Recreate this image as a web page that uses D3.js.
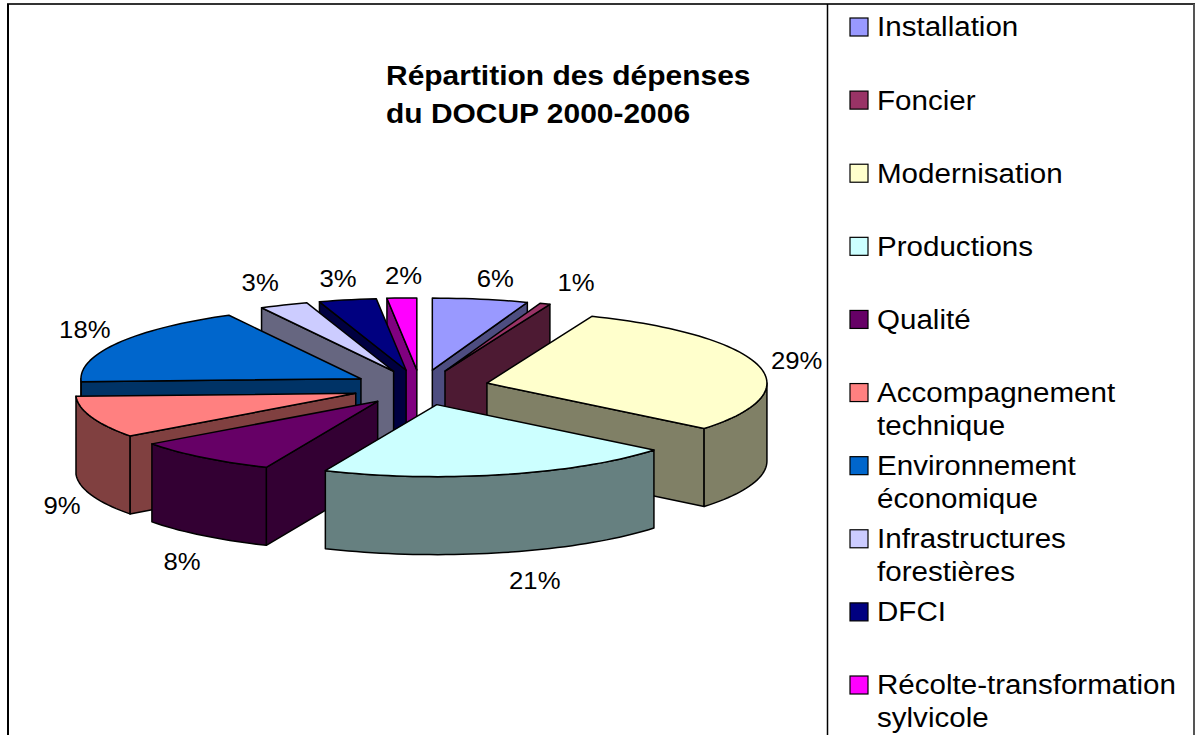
<!DOCTYPE html>
<html>
<head>
<meta charset="utf-8">
<script src="https://cdn.jsdelivr.net/npm/d3@7"></script>
<style>
    html, body { margin: 0; padding: 0; background: #fff; overflow: hidden; }
    text { font-family: "Liberation Sans", Arial, sans-serif; fill: #000; }
</style>
</head>
<body>
<div id="chart"></div>
<script>
// slices, clockwise from 12 o'clock
var categories = ["Installation", "Foncier", "Modernisation", "Productions", "Qualité",
    "Accompagnement technique", "Environnement économique", "Infrastructures forestières",
    "DFCI", "Récolte-transformation sylvicole"];
var shares = [5.5, 0.6, 29.7, 20.6, 8.4, 9.4, 17.8, 2.8, 3.3, 1.7];
var shareLabels = ["6%", "1%", "29%", "21%", "8%", "9%", "18%", "3%", "3%", "2%"];
var colors = ["#9999FF", "#993366", "#FFFFCC", "#CCFFFF", "#660066",
    "#FF8080", "#0066CC", "#CCCCFF", "#000080", "#FF00FF"];
var legendLines = [["Installation"], ["Foncier"], ["Modernisation"], ["Productions"], ["Qualité"],
    ["Accompagnement", "technique"], ["Environnement", "économique"], ["Infrastructures", "forestières"],
    ["DFCI"], ["Récolte-transformation", "sylvicole"]];
var titleLines = ["Répartition des dépenses", "du DOCUP 2000-2006"];

// small corrections of the percent labels, excel places them by hand
var labelNudge = [[7, 2], [15, 0], [-5, 1], [21, 6], [7, 8], [13, 3], [6, -2], [-6, -1], [0, 1], [4, 1]];

var width = 1198, height = 735;
var textStretch = 1.07;   // the original text is a bit wider than it is tall
var legendStretch = 1.095;

var svg = d3.select("#chart").append("svg")
    .attr("width", width)
    .attr("height", height);

// table lines around the chart
var frame = svg.append("g").attr("stroke", "#000").attr("stroke-width", 2);
frame.append("line").attr("x1", 7).attr("x2", 1195).attr("y1", 4).attr("y2", 4).attr("stroke", "#333");
frame.append("line").attr("x1", 8).attr("x2", 8).attr("y1", 4).attr("y2", height);
frame.append("line").attr("x1", 827.5).attr("x2", 827.5).attr("y1", 4).attr("y2", height).attr("stroke-width", 1.5);
frame.append("line").attr("x1", 1194).attr("x2", 1194).attr("y1", 4).attr("y2", height).attr("stroke", "#555");

// pie geometry
var centerX = 420.5, centerY = 387.5;
var radiusX = 280, radiusY = 72, depth = 78;
var explode = 0.245;

var pie = d3.pie().sort(null).value(function(d) { return d.share; });
var rows = categories.map(function(c, i) {
    return { name: c, share: shares[i], label: shareLabels[i], color: colors[i], nudge: labelNudge[i] };
});
var slices = pie(rows);

slices.forEach(function(s) {
    s.mid = (s.startAngle + s.endAngle) / 2;
    s.apexX = centerX + explode * radiusX * Math.sin(s.mid);
    s.apexY = centerY - explode * radiusY * Math.cos(s.mid);
    s.shade = d3.interpolateRgb(s.data.color, "#000")(0.5);
});

function rimX(s, a) { return s.apexX + radiusX * Math.sin(a); }
function rimY(s, a) { return s.apexY - radiusY * Math.cos(a); }

var line = d3.line();

function arcPoints(s, a0, a1, drop) {
    var n = Math.max(2, Math.ceil((a1 - a0) / 0.03));
    return d3.range(n + 1).map(function(k) {
        var a = a0 + (a1 - a0) * k / n;
        return [rimX(s, a), rimY(s, a) + drop];
    });
}

function sideFace(s, a) {
    return line([[s.apexX, s.apexY], [rimX(s, a), rimY(s, a)],
        [rimX(s, a), rimY(s, a) + depth], [s.apexX, s.apexY + depth]]) + "Z";
}

// back slices first so the front ones cover them
var ordered = slices.slice().sort(function(a, b) { return a.apexY - b.apexY; });

var pieGroup = svg.append("g")
    .attr("stroke", "#000")
    .attr("stroke-width", 1.5)
    .attr("stroke-linejoin", "round");

ordered.forEach(function(s) {
    var g = pieGroup.append("g");

    // cut faces, only those turned towards the viewer
    if (Math.sin(s.startAngle) < -0.001) {
        g.append("path").attr("d", sideFace(s, s.startAngle)).attr("fill", s.shade);
    }
    if (Math.sin(s.endAngle) > 0.001) {
        g.append("path").attr("d", sideFace(s, s.endAngle)).attr("fill", s.shade);
    }

    // outer wall
    var a0 = Math.max(s.startAngle, Math.PI / 2);
    var a1 = Math.min(s.endAngle, 3 * Math.PI / 2);
    if (a1 > a0) {
        var wall = arcPoints(s, a0, a1, 0).concat(arcPoints(s, a0, a1, depth).reverse());
        g.append("path").attr("d", line(wall) + "Z").attr("fill", s.shade);
    }

    // top
    var top = [[s.apexX, s.apexY]].concat(arcPoints(s, s.startAngle, s.endAngle, 0));
    g.append("path").attr("d", line(top) + "Z").attr("fill", s.data.color);
});

// percent labels
var labelRx = 325, labelRy = 95;
svg.append("g").selectAll("text")
    .data(slices).enter().append("text")
    .attr("transform", function(s) {
        var front = Math.cos(s.mid) < 0 ? depth : 0;
        var x = s.apexX + labelRx * Math.sin(s.mid) + s.data.nudge[0];
        var y = s.apexY - labelRy * Math.cos(s.mid) + front + s.data.nudge[1];
        return "translate(" + [x, y] + ") scale(" + textStretch + ",1)";
    })
    .attr("dy", "0.35em")
    .attr("text-anchor", "middle")
    .attr("font-size", 24)
    .text(function(s) { return s.data.label; });

// title
svg.append("g").selectAll("text")
    .data(titleLines).enter().append("text")
    .attr("transform", function(d, i) { return "translate(" + [386, 85 + i * 38] + ") scale(" + textStretch + ",1)"; })
    .attr("font-size", 28)
    .attr("font-weight", "bold")
    .text(function(d) { return d; });

// legend
var legendY = d3.scalePoint().domain(categories).range([27, 685]);
var legend = svg.append("g").selectAll("g")
    .data(rows).enter().append("g")
    .attr("transform", function(d) { return "translate(0," + legendY(d.name) + ")"; });

legend.append("rect")
    .attr("x", 850)
    .attr("y", -9)
    .attr("width", 18)
    .attr("height", 18)
    .attr("fill", function(d) { return d.color; })
    .attr("stroke", "#000")
    .attr("stroke-width", 1.2);

legend.each(function(d, i) {
    d3.select(this).selectAll("text")
        .data(legendLines[i]).enter().append("text")
        .attr("transform", function(t, k) { return "translate(" + [877, k * 33] + ") scale(" + legendStretch + ",1)"; })
        .attr("dy", "0.35em")
        .attr("font-size", 27)
        .text(function(t) { return t; });
});
</script>
</body>
</html>
